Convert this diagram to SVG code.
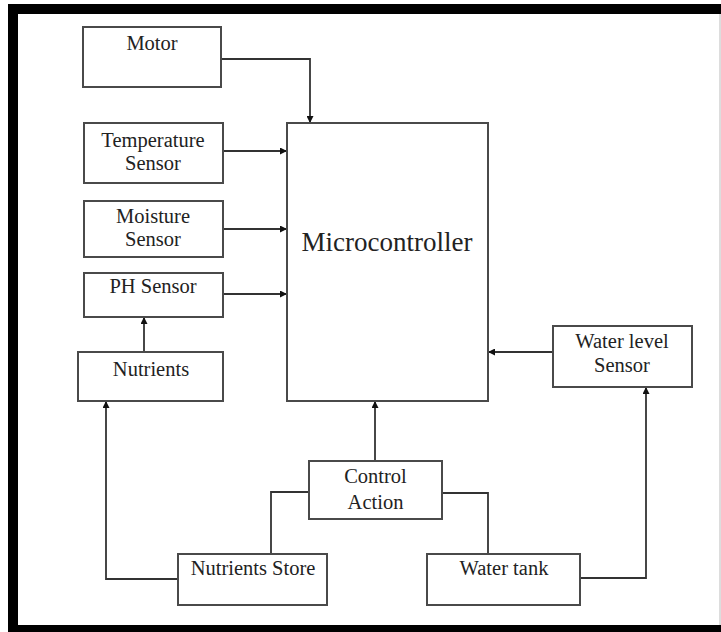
<svg xmlns="http://www.w3.org/2000/svg" width="721" height="632" viewBox="0 0 721 632">
<style>
.box{fill:#fff;stroke:#4a4a4a;stroke-width:2}
.t{font-family:"Liberation Serif","Times New Roman",serif;font-size:20.5px;fill:#222;text-anchor:middle}
.big{font-size:27px}
.c{fill:none;stroke:#333;stroke-width:1.8}
</style>
<defs>
<marker id="ah" viewBox="0 0 10 10" refX="10" refY="5" markerWidth="7" markerHeight="7" markerUnits="userSpaceOnUse" orient="auto">
<path d="M0,0 L10,5 L0,10 z" fill="#111"/>
</marker>
</defs>
<rect x="0" y="0" width="721" height="632" fill="#fff"/>
<g id="frame">
<rect x="8" y="4" width="713" height="10" fill="#000"/>
<rect x="8" y="4" width="10" height="628" fill="#000"/>
<rect x="8" y="625" width="713" height="7" fill="#000"/>
<line x1="720" y1="14" x2="720" y2="625" stroke="#bbb" stroke-width="1"/>
</g>
<g id="connectors">
<path class="c" d="M221,59 H310 V123" marker-end="url(#ah)"/>
<path class="c" d="M223,151 H287" marker-end="url(#ah)"/>
<path class="c" d="M223,229 H287" marker-end="url(#ah)"/>
<path class="c" d="M223,294 H287" marker-end="url(#ah)"/>
<path class="c" d="M144,352 V317" marker-end="url(#ah)"/>
<path class="c" d="M178,579 H106 V401" marker-end="url(#ah)"/>
<path class="c" d="M375,461 V401" marker-end="url(#ah)"/>
<path class="c" d="M309,492 H271 V554"/>
<path class="c" d="M442,493 H488 V554"/>
<path class="c" d="M580,578 H646 V387" marker-end="url(#ah)"/>
<path class="c" d="M553,352 H488" marker-end="url(#ah)"/>
</g>
<g id="motor"><rect class="box" x="83" y="27" width="138" height="60"/><text class="t" x="152" y="50">Motor</text></g>
<g id="temperature"><rect class="box" x="84" y="123" width="139" height="60"/><text class="t" x="153" y="147">Temperature</text><text class="t" x="153" y="170">Sensor</text></g>
<g id="moisture"><rect class="box" x="84" y="201" width="139" height="56"/><text class="t" x="153" y="223">Moisture</text><text class="t" x="153" y="246">Sensor</text></g>
<g id="ph"><rect class="box" x="84" y="273" width="139" height="44"/><text class="t" x="153" y="293">PH Sensor</text></g>
<g id="nutrients"><rect class="box" x="78" y="352" width="145" height="49"/><text class="t" x="151" y="376">Nutrients</text></g>
<g id="microcontroller"><rect class="box" x="287" y="123" width="201" height="278"/><text class="t big" x="387" y="251">Microcontroller</text></g>
<g id="waterlevel"><rect class="box" x="553" y="326" width="139" height="61"/><text class="t" x="622" y="348">Water level</text><text class="t" x="622" y="372">Sensor</text></g>
<g id="control"><rect class="box" x="309" y="461" width="133" height="58"/><text class="t" x="375.5" y="483">Control</text><text class="t" x="375.5" y="509">Action</text></g>
<g id="nutrientsstore"><rect class="box" x="178" y="554" width="149" height="51"/><text class="t" x="253" y="575">Nutrients Store</text></g>
<g id="watertank"><rect class="box" x="427" y="554" width="153" height="51"/><text class="t" x="504" y="575">Water tank</text></g>
</svg>
